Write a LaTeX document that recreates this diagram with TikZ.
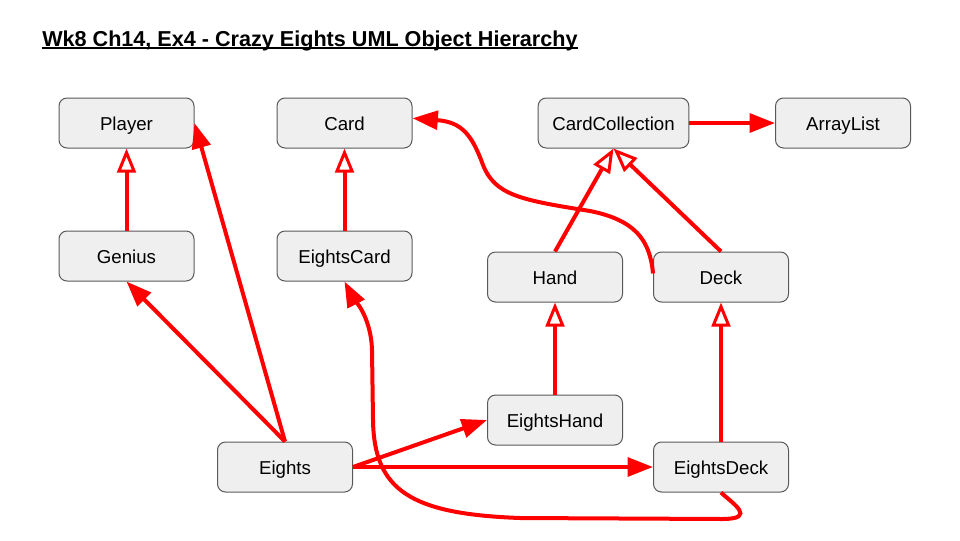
\documentclass[tikz,border=0pt]{standalone}
\usepackage{fontspec}
\setmainfont{Liberation Sans}
\usetikzlibrary{arrows.meta}
\newcommand{\ulinetext}[1]{\setbox0=\hbox{#1}\rlap{\rule[-2.4pt]{\wd0}{1.3pt}}\box0}

\begin{document}
\begin{tikzpicture}[x=0.75pt,y=0.75pt,yscale=-1,xscale=1,
	cls/.style={draw={rgb, 255:red, 89; green, 89; blue, 89 }, fill={rgb, 255:red, 239; green, 239; blue, 239 }, line width=0.75pt, rounded corners=6pt, minimum width=101.25pt, minimum height=37.5pt, text height=10.5pt, text depth=0pt, font=\fontsize{14}{16}\selectfont},
	isa/.style={color=red, line width=3pt, -{Triangle[open,length=18pt,width=14pt,line width=2.25pt]}},
	has/.style={color=red, line width=3pt, -{Triangle[length=19pt,width=14pt]}}]
		%set diagram size 960 x 540
		\useasboundingbox (0,0) rectangle (960,540);
		
		\node [anchor=base west, inner sep=0pt, font=\bfseries\fontsize{16.2}{19}\selectfont] (title) at (42,46) {\ulinetext{Wk8 Ch14, Ex4 - Crazy Eights UML Object Hierarchy}};
		
		%top row
		\node [cls] (Player) at (126.5,123) {Player};
		\node [cls] (Card) at (344.5,123) {Card};
		\node [cls, minimum width=113pt] (CardCollection) at (613.5,123) {CardCollection};
		\node [cls] (ArrayList) at (843,123) {ArrayList};
		
		\node [cls] (Genius) at (126.5,256) {Genius};
		\node [cls] (EightsCard) at (344.5,256) {EightsCard};
		\node [cls] (Hand) at (555,277) {Hand};
		\node [cls] (Deck) at (721,277) {Deck};
		
		\node [cls] (EightsHand) at (555,420) {EightsHand};
		\node [cls] (Eights) at (285,467) {Eights};
		\node [cls] (EightsDeck) at (721,467) {EightsDeck};
		
		%inheritance
		\draw [isa] (Genius) -- (Player);
		\draw [isa] (EightsCard) -- (Card);
		\draw [isa] (Hand.north) -- (CardCollection.south);
		\draw [isa] (Deck.north) -- (CardCollection.south);
		\draw [isa] (EightsHand) -- (Hand);
		\draw [isa] (EightsDeck) -- (Deck);
		
		%has-a
		\draw [has] (CardCollection) -- (ArrayList);
		\draw [has] (Eights.north) -- (Genius.south);
		\draw [has] (Eights.north) -- (Player.east);
		\draw [has] (Eights.east) -- (EightsHand.west);
		\draw [has] (Eights.east) -- (EightsDeck.west);
		\draw [has] (Deck.177) .. controls (650,240) and (635,220) .. (590,211) .. controls (520,200) and (495,195) .. (483,165) .. controls (472,135) and (462,122) .. (Card.4);
		\draw [has] (EightsDeck.south) .. controls (732,503) and (758,519) .. (722,519) -- (520,518) .. controls (410,514) and (374,490) .. (373,420) -- (372,350) .. controls (371,315) and (352,296) .. (EightsCard.south);
		
\end{tikzpicture}
\end{document}
